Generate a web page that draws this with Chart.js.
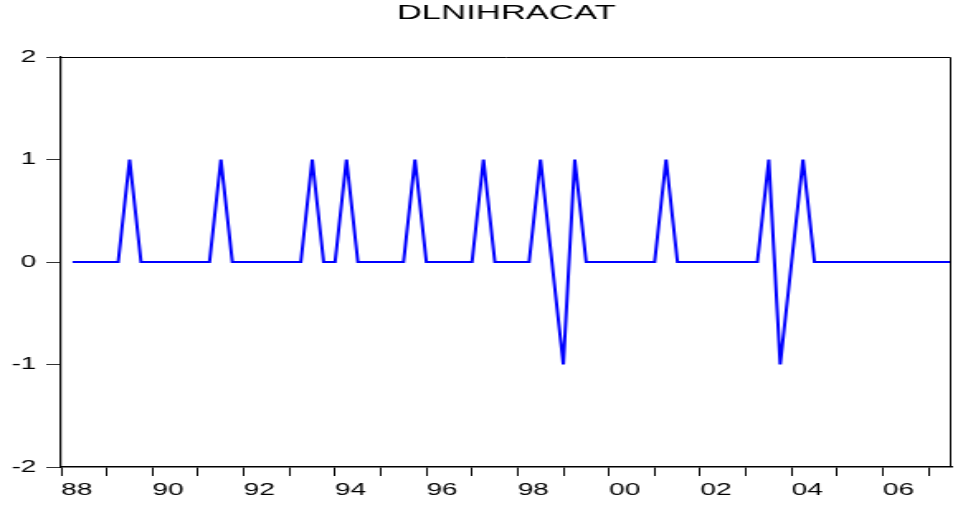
<!DOCTYPE html>
<html>
<head>
<meta charset="utf-8">
<title>DLNIHRACAT</title>
<script src="https://cdn.jsdelivr.net/npm/chart.js@4.4.1/dist/chart.umd.min.js"></script>
<style>
  html, body { margin: 0; padding: 0; background: #fff; }
  /* EViews graph is stretched sideways: draw narrow, show wide */
  #chart { display: block; width: 958px !important; height: 507px !important; }
</style>
</head>
<body>
<canvas id="chart" width="580" height="507" style="width:958px;height:507px"></canvas>
<script>
"use strict"
//Data: quarterly, 1988Q1 - 2007Q3
const years = [1988, 1989, 1990, 1991, 1992, 1993, 1994, 1995, 1996, 1997,
               1998, 1999, 2000, 2001, 2002, 2003, 2004, 2005, 2006, 2007];
const quarters = ["Q1", "Q2", "Q3", "Q4"];
const lastQuarter = 3; //2007 ends at Q3

//DLNIHRACAT values, one row per year
const dlnihracat = [
  null, 0, 0, 0,   //1988
  0, 0, 1, 0,      //1989
  0, 0, 0, 0,      //1990
  0, 0, 1, 0,      //1991
  0, 0, 0, 0,      //1992
  0, 0, 1, 0,      //1993
  0, 1, 0, 0,      //1994
  0, 0, 0, 1,      //1995
  0, 0, 0, 0,      //1996
  0, 1, 0, 0,      //1997
  0, 0, 1, 0,      //1998
  -1, 1, 0, 0,     //1999
  0, 0, 0, 0,      //2000
  0, 1, 0, 0,      //2001
  0, 0, 0, 0,      //2002
  0, 0, 1, -1,     //2003
  0, 1, 0, 0,      //2004
  0, 0, 0, 0,      //2005
  0, 0, 0, 0,      //2006
  0, 0, 0          //2007
];

//y tick values
const yTicks = [-2, -1, 0, 1, 2];

//Bygg kvartalsetiketter
const labels = [];
years.forEach((y, i) => {
  const n = (i === years.length - 1) ? lastQuarter : 4;
  for (let q = 0; q < n; q++) {
    labels.push(y + quarters[q]);
  }
});

const font = "'Liberation Sans', Arial, Helvetica, sans-serif";

//Ram runt plotytan (topp och höger)
const framePlugin = {
  id: 'frame',
  afterDraw(chart) {
    const a = chart.chartArea;
    const ctx = chart.ctx;
    ctx.save();
    ctx.strokeStyle = '#000';
    ctx.lineWidth = 1;
    ctx.beginPath();
    ctx.moveTo(a.left, a.top + 0.5);
    ctx.lineTo(a.right - 0.5, a.top + 0.5);
    ctx.lineTo(a.right - 0.5, a.bottom);
    ctx.stroke();
    ctx.restore();
  }
};

const ctx = document.getElementById('chart').getContext('2d');

new Chart(ctx, {
  type: 'line',
  data: {
    labels: labels,
    datasets: [{
      label: 'DLNIHRACAT',
      data: dlnihracat,
      borderColor: '#0000FF',
      borderWidth: 2,
      pointRadius: 0,
      tension: 0,
      fill: false
    }]
  },
  options: {
    responsive: false,
    animation: false,
    devicePixelRatio: 1,
    layout: { padding: { left: 0, right: 2, top: 0, bottom: 0 } },
    plugins: {
      legend: { display: false },
      tooltip: { enabled: false },
      title: {
        display: true,
        text: 'DLNIHRACAT',
        fullSize: false,
        color: '#000',
        font: { family: font, size: 21, weight: 'normal' },
        padding: { top: 1, bottom: 30.8 }
      }
    },
    scales: {
      x: {
        type: 'category',
        offset: false,
        afterFit(scale) { scale.height = 40; },
        border: { display: true, color: '#000', width: 1.5 },
        grid: {
          drawOnChartArea: false,
          drawTicks: true,
          tickLength: 9,
          tickColor: c => (labels[c.index] && labels[c.index].endsWith('Q1')) ? '#000' : 'rgba(0,0,0,0)',
          lineWidth: 1
        },
        ticks: {
          autoSkip: false,
          maxRotation: 0,
          minRotation: 0,
          align: 'start',
          padding: 4,
          color: '#000',
          font: { family: font, size: 17 },
          callback: function(val, i) {
            const lab = labels[i];
            const yr = parseInt(lab);
            if (lab.endsWith('Q1') && yr % 2 === 0) {
              return String(yr).slice(2);
            }
            return '';
          }
        }
      },
      y: {
        min: yTicks[0],
        max: yTicks[yTicks.length - 1],
        afterFit(scale) { scale.width = 37; },
        afterBuildTicks(scale) { scale.ticks = yTicks.map(v => ({ value: v })); },
        border: { display: true, color: '#000', width: 1.2 },
        grid: {
          drawOnChartArea: false,
          drawTicks: true,
          tickLength: 9,
          tickColor: '#333',
          lineWidth: 1
        },
        ticks: {
          padding: 6,
          color: '#000',
          font: { family: font, size: 17 },
          callback: v => String(v)
        }
      }
    }
  },
  plugins: [framePlugin]
});
</script>
</body>
</html>
